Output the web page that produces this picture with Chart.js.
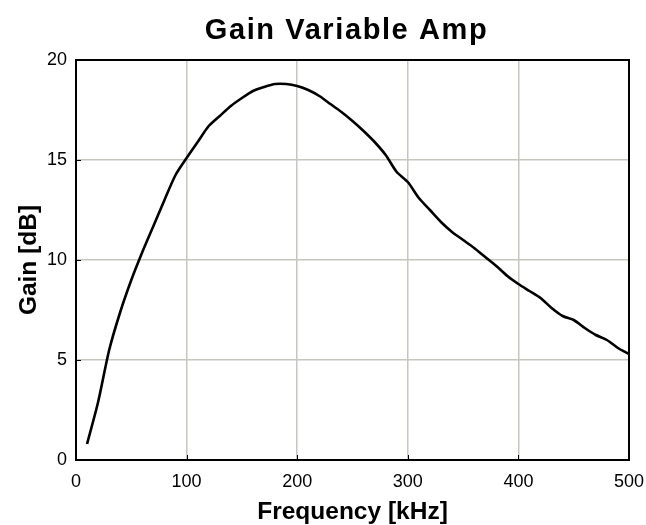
<!DOCTYPE html>
<html>
<head>
<meta charset="utf-8">
<script src="https://cdn.jsdelivr.net/npm/chart.js@4/dist/chart.umd.min.js"></script>
<style>
  html, body { margin: 0; padding: 0; background: #ffffff; }
  #wrap { width: 646px; height: 525px; }
</style>
</head>
<body>
<div id="wrap"><canvas id="c" width="646" height="525"></canvas></div>
<script>
const chartTitle = "Gain Variable Amp";
const xAxisTitle = "Frequency [kHz]";
const yAxisTitle = "Gain [dB]";
const frequencyKHz = [10, 20, 30, 40, 50, 60, 70, 80, 90, 100,
  110, 120, 130, 140, 150, 160, 170, 180, 190, 200,
  210, 220, 230, 240, 250, 260, 270, 280, 290, 300,
  310, 320, 330, 340, 350, 360, 370, 380, 390, 400,
  410, 420, 430, 440, 450, 460, 470, 480, 490, 500];
const gainDB = [0.8, 2.9, 5.5, 7.4, 9.0, 10.4, 11.7, 13.0, 14.25, 15.1,
  15.9, 16.7, 17.2, 17.7, 18.1, 18.45, 18.65, 18.8, 18.8, 18.7,
  18.5, 18.2, 17.8, 17.4, 16.95, 16.45, 15.9, 15.25, 14.4, 13.9,
  13.1, 12.5, 11.9, 11.4, 11.0, 10.6, 10.15, 9.7, 9.2, 8.8,
  8.45, 8.1, 7.6, 7.2, 7.0, 6.6, 6.25, 6.0, 5.6, 5.3];
const xTicks = [0, 100, 200, 300, 400, 500];
const yTicks = [0, 5, 10, 15, 20];

const points = frequencyKHz.map((f, i) => ({ x: f, y: gainDB[i] }));
const FONT = 'Liberation Sans, Arial, sans-serif';

const frame = {
  id: 'frame',
  afterDatasetsDraw(chart) {
    const { ctx, chartArea: a, scales } = chart;
    ctx.save();
    ctx.strokeStyle = '#000';
    ctx.lineWidth = 1;
    ctx.beginPath();
    xTicks.forEach(v => {
      const px = Math.round(scales.x.getPixelForValue(v)) + 0.5;
      ctx.moveTo(px, a.bottom);
      ctx.lineTo(px, a.bottom - 5);
    });
    yTicks.forEach(v => {
      const py = Math.round(scales.y.getPixelForValue(v)) + 0.5;
      ctx.moveTo(a.left, py);
      ctx.lineTo(a.left + 5, py);
    });
    ctx.stroke();
    ctx.lineWidth = 2;
    ctx.strokeRect(a.left, a.top, a.right - a.left, a.bottom - a.top);
    ctx.restore();
  },
  afterDraw(chart) {
    const { ctx, chartArea: a } = chart;
    ctx.save();
    ctx.fillStyle = '#000';
    ctx.font = 'bold 29px ' + FONT;
    if ('letterSpacing' in ctx) ctx.letterSpacing = '1.6px';
    ctx.textAlign = 'center';
    ctx.textBaseline = 'alphabetic';
    ctx.fillText(chartTitle, (a.left + a.right) / 2 - 6, 39);
    ctx.restore();
  }
};

new Chart(document.getElementById('c'), {
  type: 'line',
  data: {
    datasets: [{
      data: points,
      borderColor: '#000000',
      borderWidth: 2.6,
      pointRadius: 0,
      tension: 0.25,
      fill: false
    }]
  },
  options: {
    responsive: false,
    animation: false,
    devicePixelRatio: 1,
    layout: { padding: { left: 0, right: 17, top: 60, bottom: 0 } },
    plugins: {
      legend: { display: false },
      tooltip: { enabled: false },
      title: { display: false }
    },
    scales: {
      x: {
        type: 'linear',
        min: 0, max: 500,
        afterFit(s) { s.height = 65; s.paddingLeft = 0; s.paddingRight = 0; },
        afterBuildTicks(s) { s.ticks = xTicks.map(v => ({ value: v })); },
        grid: { color: '#c6c6be', lineWidth: 1.5, drawTicks: false },
        border: { display: false },
        ticks: { color: '#000', padding: 11, maxRotation: 0,
          font: { family: FONT, size: 18 } },
        title: { display: true, text: xAxisTitle, color: '#000',
          font: { family: FONT, size: 24.5, weight: 'bold', lineHeight: 1 },
          padding: { top: 0, bottom: 1 } }
      },
      y: {
        type: 'linear',
        min: 0, max: 20,
        afterFit(s) { s.width = 76; s.paddingTop = 0; s.paddingBottom = 0; },
        afterBuildTicks(s) { s.ticks = yTicks.map(v => ({ value: v })); },
        grid: { color: '#c6c6be', lineWidth: 1.5, drawTicks: false },
        border: { display: false },
        ticks: { color: '#000', padding: 9,
          font: { family: FONT, size: 18 } },
        title: { display: true, text: yAxisTitle, color: '#000',
          font: { family: FONT, size: 24.5, weight: 'bold', lineHeight: 1 },
          padding: { top: 17, bottom: 0 } }
      }
    }
  },
  plugins: [frame]
});
</script>
</body>
</html>
